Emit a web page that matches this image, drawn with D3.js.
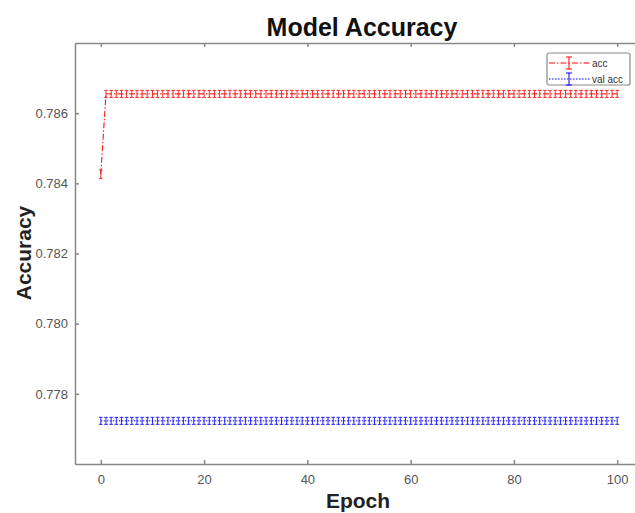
<!DOCTYPE html>
<html>
<head>
<meta charset="utf-8">
<script src="https://cdn.jsdelivr.net/npm/d3@7"></script>
<style>
  body { margin: 0; background: #fff; }
  svg { display: block; font-family: 'Liberation Sans', Arial, sans-serif; }
  .axis path, .axis line { stroke: #888; stroke-width: 1.5; }
  .axis text { fill: #555; font-size: 13px; }
</style>
</head>
<body>
<div id="chart"></div>
<script>
// epochs 0..100
const epochs = [
  0, 1, 2, 3, 4, 5, 6, 7, 8, 9, 10, 11, 12, 13, 14, 15, 16, 17, 18, 19, 20,
  21, 22, 23, 24, 25, 26, 27, 28, 29, 30, 31, 32, 33, 34, 35, 36, 37, 38, 39, 40,
  41, 42, 43, 44, 45, 46, 47, 48, 49, 50, 51, 52, 53, 54, 55, 56, 57, 58, 59, 60,
  61, 62, 63, 64, 65, 66, 67, 68, 69, 70, 71, 72, 73, 74, 75, 76, 77, 78, 79, 80,
  81, 82, 83, 84, 85, 86, 87, 88, 89, 90, 91, 92, 93, 94, 95, 96, 97, 98, 99, 100
];

const acc = [
  0.78426,
  0.78655, 0.78655, 0.78655, 0.78655, 0.78655, 0.78655, 0.78655, 0.78655, 0.78655, 0.78655,
  0.78655, 0.78655, 0.78655, 0.78655, 0.78655, 0.78655, 0.78655, 0.78655, 0.78655, 0.78655,
  0.78655, 0.78655, 0.78655, 0.78655, 0.78655, 0.78655, 0.78655, 0.78655, 0.78655, 0.78655,
  0.78655, 0.78655, 0.78655, 0.78655, 0.78655, 0.78655, 0.78655, 0.78655, 0.78655, 0.78655,
  0.78655, 0.78655, 0.78655, 0.78655, 0.78655, 0.78655, 0.78655, 0.78655, 0.78655, 0.78655,
  0.78655, 0.78655, 0.78655, 0.78655, 0.78655, 0.78655, 0.78655, 0.78655, 0.78655, 0.78655,
  0.78655, 0.78655, 0.78655, 0.78655, 0.78655, 0.78655, 0.78655, 0.78655, 0.78655, 0.78655,
  0.78655, 0.78655, 0.78655, 0.78655, 0.78655, 0.78655, 0.78655, 0.78655, 0.78655, 0.78655,
  0.78655, 0.78655, 0.78655, 0.78655, 0.78655, 0.78655, 0.78655, 0.78655, 0.78655, 0.78655,
  0.78655, 0.78655, 0.78655, 0.78655, 0.78655, 0.78655, 0.78655, 0.78655, 0.78655, 0.78655
];

const accErr = [
  0.00012,
  0.0001, 0.0001, 0.0001, 0.0001, 0.0001, 0.0001, 0.0001, 0.0001, 0.0001, 0.0001,
  0.0001, 0.0001, 0.0001, 0.0001, 0.0001, 0.0001, 0.0001, 0.0001, 0.0001, 0.0001,
  0.0001, 0.0001, 0.0001, 0.0001, 0.0001, 0.0001, 0.0001, 0.0001, 0.0001, 0.0001,
  0.0001, 0.0001, 0.0001, 0.0001, 0.0001, 0.0001, 0.0001, 0.0001, 0.0001, 0.0001,
  0.0001, 0.0001, 0.0001, 0.0001, 0.0001, 0.0001, 0.0001, 0.0001, 0.0001, 0.0001,
  0.0001, 0.0001, 0.0001, 0.0001, 0.0001, 0.0001, 0.0001, 0.0001, 0.0001, 0.0001,
  0.0001, 0.0001, 0.0001, 0.0001, 0.0001, 0.0001, 0.0001, 0.0001, 0.0001, 0.0001,
  0.0001, 0.0001, 0.0001, 0.0001, 0.0001, 0.0001, 0.0001, 0.0001, 0.0001, 0.0001,
  0.0001, 0.0001, 0.0001, 0.0001, 0.0001, 0.0001, 0.0001, 0.0001, 0.0001, 0.0001,
  0.0001, 0.0001, 0.0001, 0.0001, 0.0001, 0.0001, 0.0001, 0.0001, 0.0001, 0.0001
];

const valAcc = [
  0.77723,
  0.77723, 0.77723, 0.77723, 0.77723, 0.77723, 0.77723, 0.77723, 0.77723, 0.77723, 0.77723,
  0.77723, 0.77723, 0.77723, 0.77723, 0.77723, 0.77723, 0.77723, 0.77723, 0.77723, 0.77723,
  0.77723, 0.77723, 0.77723, 0.77723, 0.77723, 0.77723, 0.77723, 0.77723, 0.77723, 0.77723,
  0.77723, 0.77723, 0.77723, 0.77723, 0.77723, 0.77723, 0.77723, 0.77723, 0.77723, 0.77723,
  0.77723, 0.77723, 0.77723, 0.77723, 0.77723, 0.77723, 0.77723, 0.77723, 0.77723, 0.77723,
  0.77723, 0.77723, 0.77723, 0.77723, 0.77723, 0.77723, 0.77723, 0.77723, 0.77723, 0.77723,
  0.77723, 0.77723, 0.77723, 0.77723, 0.77723, 0.77723, 0.77723, 0.77723, 0.77723, 0.77723,
  0.77723, 0.77723, 0.77723, 0.77723, 0.77723, 0.77723, 0.77723, 0.77723, 0.77723, 0.77723,
  0.77723, 0.77723, 0.77723, 0.77723, 0.77723, 0.77723, 0.77723, 0.77723, 0.77723, 0.77723,
  0.77723, 0.77723, 0.77723, 0.77723, 0.77723, 0.77723, 0.77723, 0.77723, 0.77723, 0.77723
];

const valAccErr = [
  0.0001,
  0.0001, 0.0001, 0.0001, 0.0001, 0.0001, 0.0001, 0.0001, 0.0001, 0.0001, 0.0001,
  0.0001, 0.0001, 0.0001, 0.0001, 0.0001, 0.0001, 0.0001, 0.0001, 0.0001, 0.0001,
  0.0001, 0.0001, 0.0001, 0.0001, 0.0001, 0.0001, 0.0001, 0.0001, 0.0001, 0.0001,
  0.0001, 0.0001, 0.0001, 0.0001, 0.0001, 0.0001, 0.0001, 0.0001, 0.0001, 0.0001,
  0.0001, 0.0001, 0.0001, 0.0001, 0.0001, 0.0001, 0.0001, 0.0001, 0.0001, 0.0001,
  0.0001, 0.0001, 0.0001, 0.0001, 0.0001, 0.0001, 0.0001, 0.0001, 0.0001, 0.0001,
  0.0001, 0.0001, 0.0001, 0.0001, 0.0001, 0.0001, 0.0001, 0.0001, 0.0001, 0.0001,
  0.0001, 0.0001, 0.0001, 0.0001, 0.0001, 0.0001, 0.0001, 0.0001, 0.0001, 0.0001,
  0.0001, 0.0001, 0.0001, 0.0001, 0.0001, 0.0001, 0.0001, 0.0001, 0.0001, 0.0001,
  0.0001, 0.0001, 0.0001, 0.0001, 0.0001, 0.0001, 0.0001, 0.0001, 0.0001, 0.0001
];

const xTicks = [0, 20, 40, 60, 80, 100];
const yTicks = [0.778, 0.780, 0.782, 0.784, 0.786];

const seriesNames = ['acc', 'val acc'];
const seriesColors = ['#ff0000', '#0000ff'];

const width = 635;
const height = 513;
const margin = { top: 43, right: -8, bottom: 49, left: 75 };

const svg = d3.select('#chart').append('svg')
  .attr('width', width)
  .attr('height', height);

const x = d3.scaleLinear()
  .domain([-5, 105])
  .range([margin.left, width - margin.right]);

const y = d3.scaleLinear()
  .domain([0.776, 0.788])
  .range([height - margin.bottom, margin.top]);

// axes, ticks pointing inward
svg.append('g')
  .attr('class', 'axis')
  .attr('transform', `translate(0,${height - margin.bottom})`)
  .call(d3.axisBottom(x).tickValues(xTicks).tickSizeInner(-4).tickSizeOuter(0).tickPadding(11));

svg.append('g')
  .attr('class', 'axis')
  .attr('transform', `translate(0,${margin.top})`)
  .call(d3.axisTop(x).tickValues(xTicks).tickSizeInner(-4).tickSizeOuter(0).tickFormat(''));

svg.append('g')
  .attr('class', 'axis')
  .attr('transform', `translate(${margin.left},0)`)
  .call(d3.axisLeft(y).tickValues(yTicks).tickFormat(d3.format('.3f'))
    .tickSizeInner(-4).tickSizeOuter(0).tickPadding(7));

const series = [
  { name: seriesNames[0], color: seriesColors[0], dash: '6,2,1.5,2', values: acc, errs: accErr },
  { name: seriesNames[1], color: seriesColors[1], dash: '1.5,1.5', values: valAcc, errs: valAccErr }
];

const line = d3.line()
  .x((d) => x(d[0]))
  .y((d) => y(d[1]));

const plot = svg.append('g');

series.forEach((s) => {
  let pts = epochs.map((e, i) => [e, s.values[i], s.errs[i]]);

  plot.append('path')
    .datum(pts)
    .attr('fill', 'none')
    .attr('stroke', s.color)
    .attr('stroke-width', 1)
    .attr('stroke-dasharray', s.dash)
    .attr('d', line);

  let bars = plot.append('g')
    .attr('stroke', s.color)
    .attr('stroke-width', 1)
    .attr('opacity', 0.85)
    .selectAll('g')
    .data(pts)
    .enter()
    .append('g');

  bars.append('line')
    .attr('x1', (d) => x(d[0]))
    .attr('x2', (d) => x(d[0]))
    .attr('y1', (d) => y(d[1] - d[2]))
    .attr('y2', (d) => y(d[1] + d[2]));

  bars.append('line')
    .attr('x1', (d) => x(d[0]) - 1.8)
    .attr('x2', (d) => x(d[0]) + 1.8)
    .attr('y1', (d) => y(d[1] - d[2]))
    .attr('y2', (d) => y(d[1] - d[2]));

  bars.append('line')
    .attr('x1', (d) => x(d[0]) - 1.8)
    .attr('x2', (d) => x(d[0]) + 1.8)
    .attr('y1', (d) => y(d[1] + d[2]))
    .attr('y2', (d) => y(d[1] + d[2]));
});

/* LEGEND */
const legend = svg.append('g').attr('transform', 'translate(547,53)');

legend.append('rect')
  .attr('width', 83)
  .attr('height', 32)
  .attr('rx', 2)
  .attr('fill', '#fff')
  .attr('stroke', '#888')
  .attr('stroke-width', 1.2);

const items = legend.selectAll('.key-item')
  .data(series)
  .enter()
  .append('g')
  .attr('class', 'key-item')
  .attr('transform', (d, i) => `translate(0,${10 + i * 16})`);

items.append('line')
  .attr('x1', 2).attr('x2', 43)
  .attr('stroke', (d) => d.color)
  .attr('stroke-dasharray', (d) => d.dash);

items.append('line')
  .attr('x1', 22).attr('x2', 22).attr('y1', -6).attr('y2', 6)
  .attr('stroke', (d) => d.color);
items.append('line')
  .attr('x1', 19).attr('x2', 25).attr('y1', -6).attr('y2', -6)
  .attr('stroke', (d) => d.color);
items.append('line')
  .attr('x1', 19).attr('x2', 25).attr('y1', 6).attr('y2', 6)
  .attr('stroke', (d) => d.color);

items.append('text')
  .attr('x', 45)
  .attr('dy', '0.35em')
  .attr('font-size', 10)
  .attr('fill', '#333')
  .text((d) => d.name);

/* TITLES */
svg.append('text')
  .attr('x', 362)
  .attr('y', 36)
  .attr('text-anchor', 'middle')
  .attr('font-size', 25)
  .attr('font-weight', 'bold')
  .attr('fill', '#111')
  .text('Model Accuracy');

svg.append('text')
  .attr('x', 358)
  .attr('y', 508)
  .attr('text-anchor', 'middle')
  .attr('font-size', 21)
  .attr('font-weight', 'bold')
  .attr('fill', '#222')
  .text('Epoch');

svg.append('text')
  .attr('transform', 'translate(31,253) rotate(-90)')
  .attr('text-anchor', 'middle')
  .attr('font-size', 21)
  .attr('font-weight', 'bold')
  .attr('fill', '#222')
  .text('Accuracy');
</script>
</body>
</html>
